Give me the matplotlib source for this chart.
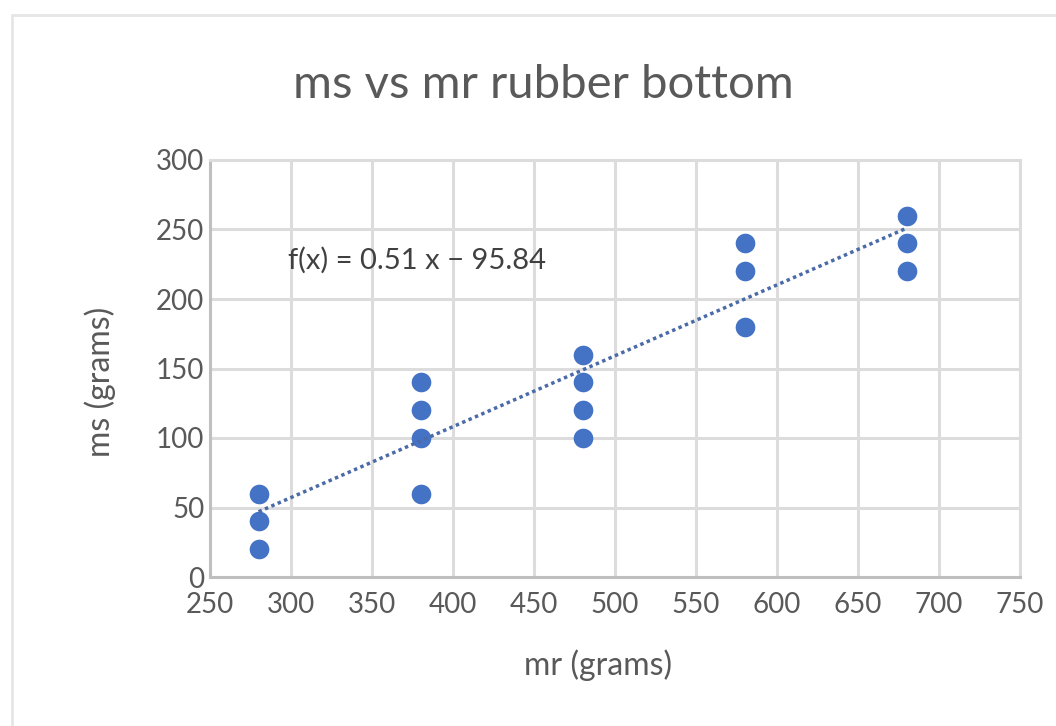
import matplotlib
matplotlib.use("Agg")
import matplotlib.pyplot as plt
from matplotlib.patches import Rectangle
import numpy as np

# Data
mr = [280, 280, 280, 380, 380, 380, 380, 480, 480, 480, 480, 580, 580, 580, 680, 680, 680]
ms = [20, 40, 60, 60, 100, 120, 140, 100, 120, 140, 160, 180, 220, 240, 220, 240, 260]
slope = 0.51
intercept = -95.84
x_ticks = [250, 300, 350, 400, 450, 500, 550, 600, 650, 700, 750]
y_ticks = [0, 50, 100, 150, 200, 250, 300]

plt.rcParams['font.family'] = ['Lato', 'DejaVu Sans']

fig = plt.figure(figsize=(10.56, 7.26), dpi=100)
fig.patch.set_facecolor('white')
# outer chart border
fig.add_artist(Rectangle((12/1056, -0.2), 1.2, 1.2 - 15/726, transform=fig.transFigure,
                         fill=False, edgecolor='#e6e6e6', linewidth=2))

ax = fig.add_axes([210/1056, 1 - 577/726, 810/1056, 417/726])
ax.set_xlim(250, 750)
ax.set_ylim(0, 300)
ax.set_xticks(x_ticks)
ax.set_yticks(y_ticks)
ax.grid(True, color='#dcdcdc', linewidth=2.2)
ax.set_axisbelow(True)
for s in ax.spines.values():
    s.set_color('#dcdcdc')
    s.set_linewidth(2.2)
ax.spines['left'].set_color('#bfbfbf')
ax.spines['bottom'].set_color('#bfbfbf')
ax.tick_params(length=0, labelsize=20, colors='#595959')
ax.tick_params(axis='x', pad=11)
ax.tick_params(axis='y', pad=4)
for lbl in ax.get_yticklabels():
    lbl.set_verticalalignment('center_baseline')

ax.scatter(mr, ms, s=200, color='#4472C4', zorder=3, linewidths=0)

xl = np.array([min(mr), max(mr)])
ax.plot(xl, slope * xl + intercept, linestyle=(0, (1, 1)), color='#4a6aa8', linewidth=2.5, zorder=4)

ax.text(298, 228, "f(x) = 0.51 x − 95.84", fontsize=21, color='#404040', va='center', ha='left')

fig.text(598/1056, 1 - 665/726, "mr (grams)", fontsize=23, color='#595959', ha='center', va='center')
fig.text(100/1056, 1 - 382/726, "ms (grams)", fontsize=23, color='#595959', ha='center', va='center',
         rotation=90)
fig.text(543/1056, 1 - 85/726, "ms vs mr rubber bottom", fontsize=34, color='#595959',
         ha='center', va='center')

fig.savefig("out.png", dpi=100)
